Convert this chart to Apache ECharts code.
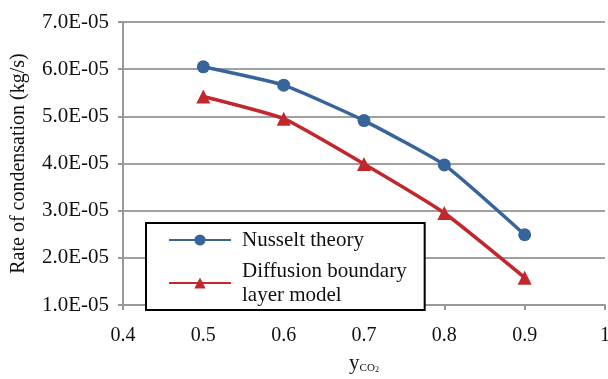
<!DOCTYPE html>
<html>
<head>
<meta charset="utf-8">
<script src="https://cdn.jsdelivr.net/npm/echarts@6/dist/echarts.min.js"></script>
<style>
  html, body { margin: 0; padding: 0; background: #fff; }
  #main { width: 608px; height: 379px; }
</style>
</head>
<body>
<div id="main"></div>
<script>
var chartDom = document.getElementById('main');
var myChart = echarts.init(chartDom);
var option;

// x values (mole fraction of CO2)
const yCO2 = [0.5, 0.6, 0.7, 0.8, 0.9];
// condensation rates, in units of 1E-05 kg/s
const nusselt = [6.05, 5.66, 4.91, 3.97, 2.49];
const diffusion = [5.42, 4.95, 3.99, 2.95, 1.58];

const serif = '"Liberation Serif", "DejaVu Serif", serif';

function pairs(xs, ys) {
    return xs.map((x, i) => [x, ys[i] * 1e-5]);
}

option = {
    backgroundColor: '#fff',
    textStyle: { fontFamily: serif },
    animation: false,
    grid: {
        left: 123,
        right: 3,
        top: 22,
        bottom: 74,
        outerBoundsMode: 'none'
    },
    legend: {
        orient: 'vertical',
        left: 146,
        top: 223,
        backgroundColor: '#fff',
        borderColor: '#000',
        borderWidth: 2,
        borderRadius: 0,
        padding: [5, 18, 3, 22],
        itemGap: 7,
        itemWidth: 62,
        itemHeight: 14,
        textStyle: {
            fontFamily: serif,
            fontSize: 21,
            color: '#111',
            lineHeight: 24,
            padding: [0, 0, 0, 6]
        },
        data: ['Nusselt theory', 'Diffusion boundary\nlayer model']
    },
    xAxis: {
        type: 'value',
        min: 0.4,
        max: 1,
        interval: 0.1,
        name: '{a|y}{b|CO}{c|2}',
        nameLocation: 'middle',
        nameGap: 48,
        nameTextStyle: {
            rich: {
                a: { fontFamily: serif, fontSize: 21, color: '#111' },
                b: { fontFamily: serif, fontSize: 11, color: '#111', padding: [9, 0, 0, 0] },
                c: { fontFamily: serif, fontSize: 8, color: '#111', padding: [13, 0, 0, 0] }
            }
        },
        axisLine: { lineStyle: { color: '#999', width: 2 } },
        axisTick: { show: true, length: 5, lineStyle: { color: '#999', width: 2 } },
        splitLine: { show: false },
        axisLabel: {
            fontFamily: serif,
            fontSize: 20,
            color: '#111',
            margin: 21,
            formatter: function (v) { return Math.round(v * 10) / 10 + ''; }
        }
    },
    yAxis: {
        type: 'value',
        min: 1e-5,
        max: 7e-5,
        interval: 1e-5,
        name: 'Rate of condensation (kg/s)',
        nameLocation: 'middle',
        nameGap: 94,
        nameTextStyle: { fontFamily: serif, fontSize: 20, color: '#111' },
        axisLine: { show: true, lineStyle: { color: '#999', width: 2 } },
        axisTick: { show: true, length: 5, lineStyle: { color: '#999', width: 2 } },
        splitLine: { show: true, lineStyle: { color: '#a0a0a0', width: 2 } },
        axisLabel: {
            fontFamily: serif,
            fontSize: 21,
            color: '#111',
            margin: 14,
            formatter: function (v) {
                return (v * 1e5).toFixed(1) + 'E-05';
            }
        }
    },
    series: [
        {
            name: 'Nusselt theory',
            type: 'line',
            smooth: 0.15,
            data: pairs(yCO2, nusselt),
            symbol: 'circle',
            symbolSize: 13,
            lineStyle: { color: '#386599', width: 3.5 },
            itemStyle: { color: '#386599' }
        },
        {
            name: 'Diffusion boundary\nlayer model',
            type: 'line',
            smooth: 0.15,
            data: pairs(yCO2, diffusion),
            symbol: 'triangle',
            symbolSize: 14,
            lineStyle: { color: '#c1272d', width: 3.5 },
            itemStyle: { color: '#c1272d' }
        }
    ]
};

myChart.setOption(option);
</script>
</body>
</html>
